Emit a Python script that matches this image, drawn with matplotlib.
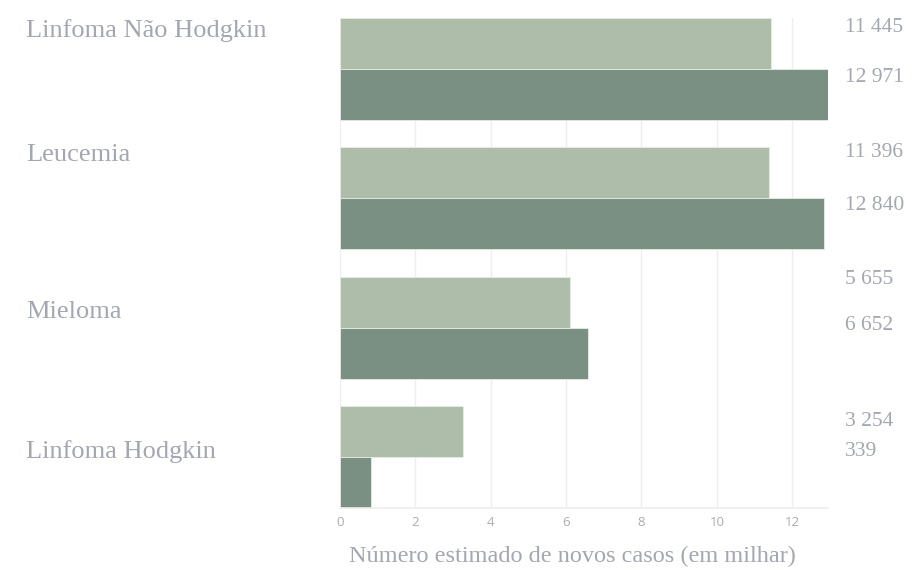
import matplotlib
matplotlib.use("Agg")
import matplotlib.pyplot as plt
import numpy as np

categories = ["Linfoma Não Hodgkin", "Leucemia", "Mieloma", "Linfoma Hodgkin"]
light_values = [11.445, 11.396, 6.11, 3.254]
dark_values = [12.971, 12.840, 6.58, 0.83]
light_labels = ["11 445", "11 396", "5 655", "3 254"]
dark_labels = ["12 971", "12 840", "6 652", "339"]
xticks = [0, 2, 4, 6, 8, 10, 12]
xlabel = "Número estimado de novos casos (em milhar)"

# layout (positions in pixels, for matching the reference placement)
W, H = 919, 570
light_label_y = [27, 153, 280, 422]
dark_label_y = [77, 205, 325, 452]
cat_label_y = [31, 155, 312, 452]

LIGHT = "#aebdaa"
DARK = "#7a9083"
TXT = "#a3a7b1"
GRID = "#eeeeee"
serif = ["Liberation Serif", "DejaVu Serif"]

fig = plt.figure(figsize=(W / 100, H / 100), dpi=100)
ax = fig.add_axes([340 / W, 1 - 508 / H, (828 - 340) / W, (508 - 18) / H])

h = 0.395
y = np.arange(len(categories))
ax.barh(y - h / 2, light_values, height=h, color=LIGHT, edgecolor="#e8ece6", linewidth=0.6, zorder=2)
ax.barh(y + h / 2, dark_values, height=h, color=DARK, edgecolor="#e8ece6", linewidth=0.6, zorder=2)

ax.set_xlim(0, 12.95)
ax.set_ylim(len(categories) - 1 + h, -h)
ax.set_xticks(xticks)
ax.set_xticklabels([str(t) for t in xticks], fontfamily="Open Sans", fontsize=9.5, color="#a8acb4")
ax.set_yticks([])
ax.tick_params(axis="x", length=0, pad=6)
ax.grid(axis="x", color=GRID, linewidth=1, zorder=0)
for s in ["top", "right", "left"]:
    ax.spines[s].set_visible(False)
ax.spines["bottom"].set_color(GRID)
ax.spines["bottom"].set_linewidth(1.2)

for i in range(len(categories)):
    fig.text(26 / W, 1 - cat_label_y[i] / H, categories[i], family=serif, fontsize=19,
             color=TXT, ha="left", va="center")
    fig.text(845 / W, 1 - light_label_y[i] / H, light_labels[i], family=serif, fontsize=15.5,
             color=TXT, ha="left", va="center")
    fig.text(845 / W, 1 - dark_label_y[i] / H, dark_labels[i], family=serif, fontsize=15.5,
             color=TXT, ha="left", va="center")

fig.text(572 / W, 1 - 556 / H, xlabel, family=serif, fontsize=17.5, color=TXT, ha="center", va="center")

fig.savefig("out.png", dpi=100, facecolor="white")
